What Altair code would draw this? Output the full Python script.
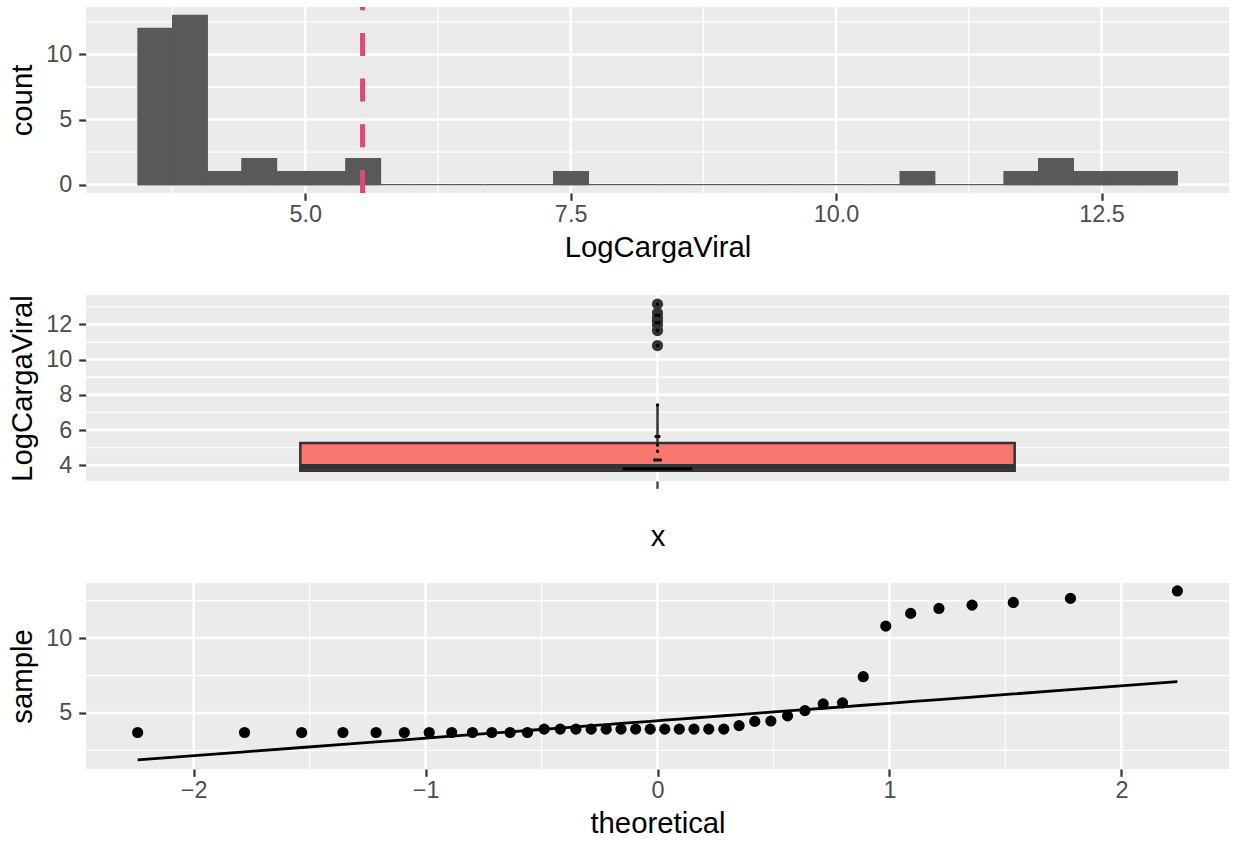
import numpy as np
import pandas as pd
import altair as alt

LOG_CARGA_VIRAL = [
    3.689, 3.689, 3.689, 3.689, 3.689, 3.689, 3.689, 3.689, 3.689, 3.689, 3.689, 3.689,
    3.912, 3.912, 3.912, 3.912, 3.912, 3.912, 3.912, 3.912, 3.912, 3.912, 3.912, 3.912, 3.912,
    4.15, 4.43, 4.46, 4.80, 5.15, 5.60, 5.67, 7.42,
    10.80, 11.65, 11.98, 12.20, 12.38, 12.65, 13.15,
]
N_BINS = 30
DOT_BINS = 30
DOT_SIZE = 0.5

# tick values / gridlines
H_X_MAJOR = [5.0, 7.5, 10.0, 12.5]
H_X_MINOR = [3.75, 6.25, 8.75, 11.25]
H_Y_MAJOR = [0, 5, 10]
H_Y_MINOR = [2.5, 7.5, 12.5]
B_Y_MAJOR = [4, 6, 8, 10, 12]
B_Y_MINOR = [5, 7, 9, 11, 13]
B_X_MAJOR = [1]
Q_X_MAJOR = [-2, -1, 0, 1, 2]
Q_X_MINOR = [-1.5, -0.5, 0.5, 1.5]
Q_Y_MAJOR = [5, 10]
Q_Y_MINOR = [2.5, 7.5, 12.5]

W, H = 1143, 186
FONT = "Liberation Sans"
BAR = "#595959"
MEAN_COL = "#E2477A"
BOX_FILL = "#F8766D"
DARK = "#333333"

raw = pd.DataFrame({"v": LOG_CARGA_VIRAL})
vals = np.array(LOG_CARGA_VIRAL)

# ---- histogram (ggplot2 bins=30 algorithm) ----
bw = (vals.max() - vals.min()) / (N_BINS - 1)
k0 = int(np.floor(vals.min() / bw - 0.5))
k1 = int(np.floor(vals.max() / bw - 0.5))
edges = (np.arange(k0, k1 + 2) + 0.5) * bw
counts, _ = np.histogram(vals, bins=edges)
hist = pd.DataFrame({"start": edges[:-1], "end": edges[1:], "count": counts})

# ---- dotplot (ggplot2 dotdensity binning, stackdir = center) ----
dbw = (vals.max() - vals.min()) / DOT_BINS
groups, binend = [], -np.inf
for v in sorted(LOG_CARGA_VIRAL):
    if v >= binend:
        groups.append([])
        binend = v + dbw
    groups[-1].append(v)

B_YDOM = [3.107, 13.67]
B_XDOM = [0.4, 1.6]
dot_px = dbw * DOT_SIZE * H / (B_YDOM[1] - B_YDOM[0])
dot_step = dot_px * (B_XDOM[1] - B_XDOM[0]) / W
rows = []
for g in groups:
    c = (min(g) + max(g)) / 2
    n = len(g)
    for j in range(n):
        rows.append({"dx": 1 + (j - (n - 1) / 2) * dot_step, "dy": c})
dots = pd.DataFrame(rows)


def grids(xmaj, xmin, ymaj, ymin, xs, ys, xa, ya):
    out = []
    for arr, w, is_x in [(xmin, 1.3, True), (ymin, 1.3, False), (xmaj, 2.5, True), (ymaj, 2.5, False)]:
        if not arr:
            continue
        ch = alt.Chart(pd.DataFrame({"g": arr})).mark_rule(color="white", strokeWidth=w)
        if is_x:
            out.append(ch.encode(x=alt.X("g:Q", scale=xs, axis=xa)))
        else:
            out.append(ch.encode(y=alt.Y("g:Q", scale=ys, axis=ya)))
    return out


# ---- panel 1: histogram ----
hx = alt.Scale(domain=[2.936, 13.70], nice=False, zero=False)
hy = alt.Scale(domain=[-0.65, 13.65], nice=False, zero=False)
hxa = alt.Axis(values=H_X_MAJOR, format=".1f", title="LogCargaViral")
hya = alt.Axis(values=H_Y_MAJOR, title="count")
bars = alt.Chart(hist).transform_filter("datum.count > 0").mark_rect(
    color=BAR, stroke=BAR, strokeWidth=1.3
).encode(
    x=alt.X("start:Q", scale=hx, axis=hxa),
    x2="end:Q",
    y=alt.Y("count:Q", scale=hy, axis=hya),
    y2=alt.datum(0),
)
zero_line = alt.Chart(hist).mark_rule(color=BAR, strokeWidth=1.2).encode(
    x=alt.X("start:Q", scale=hx, axis=hxa), x2="end:Q",
    y=alt.Y(datum=0, scale=hy, axis=hya),
)
mean_line = alt.Chart(raw).transform_aggregate(m="mean(v)").mark_rule(
    color=MEAN_COL, strokeWidth=5, strokeDash=[23, 22.7]
).encode(x=alt.X("m:Q", scale=hx, axis=hxa), y=alt.value(H), y2=alt.value(0))
p1 = alt.layer(*grids(H_X_MAJOR, H_X_MINOR, H_Y_MAJOR, H_Y_MINOR, hx, hy, hxa, hya),
               bars, zero_line, mean_line).properties(width=W, height=H)

# ---- panel 2: boxplot + dotplot ----
bx = alt.Scale(domain=B_XDOM, nice=False, zero=False)
by = alt.Scale(domain=B_YDOM, nice=False, zero=False)
bxa = alt.Axis(values=B_X_MAJOR, labels=False, title="x", titlePadding=33)
bya = alt.Axis(values=B_Y_MAJOR, title="LogCargaViral")
stats = alt.Chart(raw).transform_joinaggregate(q1="q1(v)", q3="q3(v)").transform_calculate(
    lo="datum.q1 - 1.5*(datum.q3 - datum.q1)", hi="datum.q3 + 1.5*(datum.q3 - datum.q1)"
).transform_calculate(
    vin="datum.v >= datum.lo && datum.v <= datum.hi ? datum.v : null"
).transform_aggregate(
    q1="min(q1)", q3="min(q3)", med="median(v)", wlo="min(vin)", whi="max(vin)"
)
whisk_hi = stats.mark_rule(color=DARK, strokeWidth=2.5).encode(
    x=alt.X(datum=1, type="quantitative", scale=bx, axis=bxa),
    y=alt.Y("q3:Q", scale=by, axis=bya), y2="whi:Q")
whisk_lo = stats.mark_rule(color=DARK, strokeWidth=2.5).encode(
    x=alt.X(datum=1, type="quantitative", scale=bx, axis=bxa),
    y=alt.Y("wlo:Q", scale=by, axis=bya), y2="q1:Q")
box = stats.mark_rect(fill=BOX_FILL, stroke=DARK, strokeWidth=2.5).encode(
    x=alt.X(datum=0.625, type="quantitative", scale=bx, axis=bxa),
    x2=alt.datum(1.375),
    y=alt.Y("q1:Q", scale=by, axis=bya),
    y2="q3:Q",
)
median = stats.mark_rule(color=DARK, strokeWidth=5.6).encode(
    x=alt.X(datum=0.625, type="quantitative", scale=bx, axis=bxa), x2=alt.datum(1.375),
    y=alt.Y("med:Q", scale=by, axis=bya))
outl = alt.Chart(raw).transform_joinaggregate(q1="q1(v)", q3="q3(v)").transform_filter(
    "datum.v < datum.q1 - 1.5*(datum.q3-datum.q1) || datum.v > datum.q3 + 1.5*(datum.q3-datum.q1)"
).mark_circle(size=125, color=DARK, opacity=1).encode(
    x=alt.X(datum=1, type="quantitative", scale=bx, axis=bxa),
    y=alt.Y("v:Q", scale=by, axis=bya))
dotl = alt.Chart(dots).mark_circle(size=12, color="black", opacity=1).encode(
    x=alt.X("dx:Q", scale=bx, axis=bxa), y=alt.Y("dy:Q", scale=by, axis=bya))
p2 = alt.layer(*grids(B_X_MAJOR, [], B_Y_MAJOR, B_Y_MINOR, bx, by, bxa, bya),
               whisk_hi, whisk_lo, box, median, outl, dotl).properties(width=W, height=H)

# ---- panel 3: normal QQ plot ----
qx = alt.Scale(domain=[-2.464, 2.464], nice=False, zero=False)
qy = alt.Scale(domain=[1.25, 13.68], nice=False, zero=False)
qxa = alt.Axis(values=Q_X_MAJOR, title="theoretical")
qya = alt.Axis(values=Q_Y_MAJOR, title="sample")
qq = alt.Chart(raw).transform_window(
    rank="row_number()", sort=[alt.SortField("v")]
).transform_joinaggregate(n="count()", q1="q1(v)", q3="q3(v)").transform_calculate(
    theo="quantileNormal((datum.rank - 0.5) / datum.n)",
    slope="(datum.q3 - datum.q1) / (quantileNormal(0.75) - quantileNormal(0.25))",
).transform_calculate(
    line="datum.q1 + datum.slope * (datum.theo - quantileNormal(0.25))"
)
qpts = qq.mark_circle(size=125, color="black", opacity=1).encode(
    x=alt.X("theo:Q", scale=qx, axis=qxa),
    y=alt.Y("v:Q", scale=qy, axis=qya),
)
qline = qq.mark_line(color="black", strokeWidth=2.8).encode(
    x=alt.X("theo:Q", scale=qx, axis=qxa), y=alt.Y("line:Q", scale=qy, axis=qya))
p3 = alt.layer(*grids(Q_X_MAJOR, Q_X_MINOR, Q_Y_MAJOR, Q_Y_MINOR, qx, qy, qxa, qya),
               qline, qpts).properties(width=W, height=H)

chart = alt.vconcat(p1, p2, p3, spacing=102, bounds="flush").properties(
    padding={"left": 8, "top": 4, "right": 2, "bottom": 2}, background="white"
).configure_view(fill="#EBEBEB", strokeWidth=0).configure_axis(
    labelFont=FONT, titleFont=FONT, labelFontSize=23.4, titleFontSize=29.3,
    labelColor="#4D4D4D", titleColor="#000000", titleFontWeight="normal",
    tickColor=DARK, tickWidth=2.2, tickSize=7.3, domain=False, grid=False,
).configure_axisX(labelPadding=3, titlePadding=8).configure_axisY(labelPadding=7, titlePadding=8)

chart.save("out.html", embed_options={"renderer": "svg", "actions": False})
